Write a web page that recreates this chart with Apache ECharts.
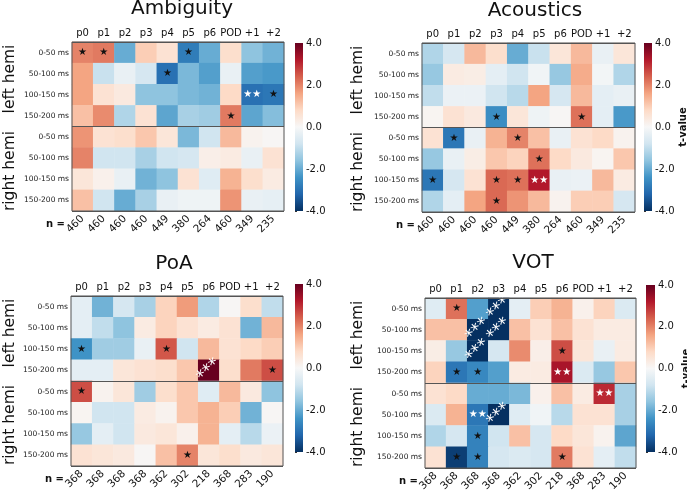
<!DOCTYPE html>
<html><head><meta charset="utf-8">
<script src="https://cdn.jsdelivr.net/npm/echarts@6/dist/echarts.min.js"></script>
<style>html,body{margin:0;padding:0;background:#fff}#c{width:687px;height:492px}</style>
</head><body><div id="c"></div>
<script>
// ---------- data ----------
const cols = ['p0','p1','p2','p3','p4','p5','p6','POD','+1','+2'];
const rowLabels = ['0-50 ms','50-100 ms','100-150 ms','150-200 ms','0-50 ms','50-100 ms','100-150 ms','150-200 ms'];
const hemis = ['left hemi','right hemi'];
const titles = ['Ambiguity','Acoustics','PoA','VOT'];
const nAmbiguity = ['460','460','460','460','449','380','264','460','349','235'];
const nAcoustics = ['460','460','460','460','449','380','264','460','349','235'];
const nPoA = ['368','368','368','368','362','302','218','368','283','190'];
const nVOT = ['368','368','368','368','362','302','218','368','283','190'];
const cbTicks = [-4, -2, 0, 2, 4];

// t-values, rows: left hemi 0-50 .. 150-200, right hemi 0-50 .. 150-200
const ambiguity = [
  [2.0, 2.1, -2.0, 1.0, 0.6, -2.8, -2.0, 0.7, -1.6, -1.9],
  [1.6, -0.9, -0.3, -0.7, -3.0, -1.8, -2.2, -0.3, -2.2, -2.3],
  [1.6, 0.6, 0.4, -1.6, -1.6, -1.8, -1.9, 0.8, -3.0, -2.9],
  [1.2, 1.9, -1.2, 0.6, -2.1, -1.3, -1.4, 2.1, -2.1, -1.7],
  [1.8, 0.6, 0.7, 1.1, 0.5, -1.8, -0.8, 1.3, 0.15, 0.05],
  [2.0, -0.8, -0.8, -1.3, -0.8, -0.7, 0.25, 0.35, -0.3, 0.6],
  [0.5, 0.2, -0.3, -1.9, -1.6, 0.6, -0.5, 1.4, 0.7, 0.35],
  [1.2, -0.8, -2.0, -1.3, -0.3, -0.2, -0.2, 1.8, -0.3, -0.35]
];
const acoustics = [
  [-1.2, -0.7, 1.3, 0.7, -2.0, -0.9, 0.5, 1.3, -0.3, 0.5],
  [-1.5, 0.35, 0.3, -0.4, -0.8, -0.15, -1.5, 1.5, -0.1, -1.2],
  [-1.0, -0.25, -0.25, -0.8, -1.1, 1.6, -0.7, 1.3, -0.4, -0.3],
  [0.1, 0.6, 0.4, -2.5, 0.5, -0.2, 0.05, 2.2, -0.4, -2.3],
  [0.6, -2.9, -0.3, 1.4, 2.0, 1.2, -0.3, 0.6, 0.8, 0.15],
  [-1.5, -0.3, 0.3, 1.1, 0.9, 2.2, 0.8, 0.4, 0.1, 1.1],
  [-2.9, -0.7, 0.6, 2.3, 2.2, 3.2, -0.3, -0.25, 1.3, 0.35],
  [-1.2, -0.4, 1.6, 2.3, 1.8, 1.3, 0.15, 1.0, 1.0, -0.7]
];
const poa = [
  [-0.4, -1.9, -0.7, -1.3, 0.9, 1.7, -1.2, 0.05, 0.7, -1.0],
  [-0.4, -1.0, -1.6, 0.35, 0.9, 0.6, 0.35, 0.6, -1.9, 1.3],
  [-2.4, -1.4, -1.4, -0.3, 2.5, -0.8, 1.3, 0.6, 0.8, 1.0],
  [-0.4, -0.4, 0.5, 0.6, 0.7, 1.1, 4.0, 0.7, 2.1, 2.6],
  [2.6, 0.15, 0.5, -1.4, 0.7, 1.1, -0.5, 1.3, 0.4, -1.6],
  [0.1, -0.8, -0.8, 0.35, 0.15, 1.1, 1.4, 1.0, -1.9, 0.05],
  [-1.5, -0.4, -0.8, 0.4, 0.5, 0.2, 1.4, -0.4, -1.1, -0.25],
  [0.6, 0.5, 0.4, 0.05, 1.2, 2.0, 0.5, 0.7, 0.4, 0.5]
];
const vot = [
  [-0.5, 2.2, -2.2, -4.0, -0.4, 1.0, 1.4, 0.2, 0.9, -0.6],
  [1.2, 1.2, -4.0, -4.0, 1.2, 0.6, 1.2, 0.6, 0.35, 0.35],
  [0.3, -1.5, -4.0, -0.7, 1.9, 0.25, 2.6, 0.5, -0.3, 0.35],
  [0.9, -2.9, -2.6, -2.2, 0.35, 0.35, 3.3, -0.6, -1.5, 1.1],
  [0.6, 0.8, -2.0, -2.0, -1.8, 0.2, 1.2, 0.35, 3.0, -1.3],
  [-0.6, 1.4, -2.9, -4.0, -0.5, -0.15, -1.1, 0.6, 0.6, -1.3],
  [-1.2, -0.7, -2.7, -0.8, 1.2, -0.7, 0.8, 0.5, 0.15, -2.1],
  [0.6, -3.8, -2.7, -0.7, -0.6, -0.7, 2.1, 0.6, -0.4, -1.0]
];
// number of significance stars per cell
const sigAmbiguity = [
  [1,1,0,0,0,1,0,0,0,0],
  [0,0,0,0,1,0,0,0,0,0],
  [0,0,0,0,0,0,0,0,2,1],
  [0,0,0,0,0,0,0,1,0,0],
  [0,0,0,0,0,0,0,0,0,0],
  [0,0,0,0,0,0,0,0,0,0],
  [0,0,0,0,0,0,0,0,0,0],
  [0,0,0,0,0,0,0,0,0,0]
];
const sigAcoustics = [
  [0,0,0,0,0,0,0,0,0,0],
  [0,0,0,0,0,0,0,0,0,0],
  [0,0,0,0,0,0,0,0,0,0],
  [0,0,0,1,0,0,0,1,0,0],
  [0,1,0,0,1,0,0,0,0,0],
  [0,0,0,0,0,1,0,0,0,0],
  [1,0,0,1,1,2,0,0,0,0],
  [0,0,0,1,0,0,0,0,0,0]
];
const sigPoA = [
  [0,0,0,0,0,0,0,0,0,0],
  [0,0,0,0,0,0,0,0,0,0],
  [1,0,0,0,1,0,0,0,0,0],
  [0,0,0,0,0,0,3,0,0,1],
  [1,0,0,0,0,0,0,0,0,0],
  [0,0,0,0,0,0,0,0,0,0],
  [0,0,0,0,0,0,0,0,0,0],
  [0,0,0,0,0,1,0,0,0,0]
];
const sigVOT = [
  [0,1,0,3,0,0,0,0,0,0],
  [0,0,3,3,0,0,0,0,0,0],
  [0,0,3,0,0,0,1,0,0,0],
  [0,1,1,0,0,0,2,0,0,0],
  [0,0,0,0,0,0,0,0,2,0],
  [0,0,2,3,0,0,0,0,0,0],
  [0,0,1,0,0,0,0,0,0,0],
  [0,1,1,0,0,0,1,0,0,0]
];

// ---------- layout ----------
const panels = [
  {title: titles[0], vals: ambiguity, sig: sigAmbiguity, n: nAmbiguity,
   g: {l: 72, t: 42, w: 212, h: 169}, cb: {l: 295, t: 43, w: 8, h: 168}, tx: 182, ty: 9, hx: 10, tval: false},
  {title: titles[1], vals: acoustics, sig: sigAcoustics, n: nAcoustics,
   g: {l: 422, t: 43, w: 213, h: 169}, cb: {l: 644, t: 43, w: 8, h: 168}, tx: 535, ty: 11, hx: 358, tval: true},
  {title: titles[2], vals: poa, sig: sigPoA, n: nPoA,
   g: {l: 71, t: 296, w: 212, h: 170}, cb: {l: 295, t: 284, w: 8, h: 168}, tx: 174, ty: 264, hx: 10, tval: false},
  {title: titles[3], vals: vot, sig: sigVOT, n: nVOT,
   g: {l: 425, t: 298, w: 211, h: 170}, cb: {l: 646, t: 285, w: 9, h: 167}, tx: 533, ty: 263, hx: 358, tval: true}
];
const RdBu_r = ['#053061','#2166ac','#3f93c6','#8fc4df','#d1e5f0','#f7f7f7','#fddbc7','#f4a582','#d6604d','#b2182b','#67001f'];
const FONT = 'DejaVu Sans';

const grid = [], xAxis = [], yAxis = [], series = [], visualMap = [], graphic = [];
panels.forEach((p, i) => {
  const gi = grid.length;
  grid.push({left: p.g.l, top: p.g.t, width: p.g.w, height: p.g.h, containLabel: false, outerBoundsMode: 'none'});
  // top column labels
  xAxis.push({type: 'category', gridIndex: gi, position: 'top', data: cols,
    axisLine: {show: false}, axisTick: {show: false}, splitLine: {show: false},
    axisLabel: {fontFamily: FONT, fontSize: 10, color: '#111', margin: 4, interval: 0}});
  const xTop = xAxis.length - 1;
  // bottom n labels
  xAxis.push({type: 'category', gridIndex: gi, position: 'bottom', data: p.n.map((v, k) => k),
    axisLine: {show: false}, axisTick: {show: false}, splitLine: {show: false},
    axisLabel: {fontFamily: FONT, fontSize: 10.5, color: '#111', margin: 6, rotate: 45, interval: 0,
      formatter: (v, k) => p.n[k]}});
  // row labels
  yAxis.push({type: 'category', gridIndex: gi, inverse: true, data: rowLabels.map((v, k) => k),
    axisLine: {show: false}, axisTick: {show: false}, splitLine: {show: false},
    axisLabel: {fontFamily: FONT, fontSize: 7.5, color: '#222', margin: 3, interval: 0,
      formatter: (v, k) => rowLabels[k]}});
  const yRow = yAxis.length - 1;
  // hemisphere axis (divider line)
  yAxis.push({type: 'category', gridIndex: gi, inverse: true, data: hemis, z: 5,
    axisLine: {show: false}, axisTick: {show: false}, axisLabel: {show: false},
    splitLine: {show: true, lineStyle: {color: '#555', width: 1}}});
  const data = [];
  p.vals.forEach((row, r) => row.forEach((v, c) => {
    const s = p.sig[r][c];
    const item = {value: [c, r, v]};
    if (s === 1) item.label = {show: true, formatter: '★', color: '#111', fontSize: 10};
    else if (s === 2) item.label = {show: true, formatter: '★★', color: '#fff', fontSize: 10};
    else if (s === 3) item.label = {show: true, formatter: '***', color: '#fff', fontSize: 17, rotate: 45};
    data.push(item);
  }));
  series.push({type: 'heatmap', xAxisIndex: xTop, yAxisIndex: yRow, data: data, progressive: 0,
    itemStyle: {borderWidth: 0}, label: {show: false, fontFamily: FONT}, emphasis: {disabled: true}});
  visualMap.push({type: 'continuous', show: false, min: cbTicks[0], max: cbTicks[cbTicks.length - 1],
    seriesIndex: i, inRange: {color: RdBu_r}});
  // colorbar: gradient + axis
  graphic.push({type: 'rect', silent: true, z: 10,
    shape: {x: p.cb.l, y: p.cb.t, width: p.cb.w, height: p.cb.h},
    style: {fill: new echarts.graphic.LinearGradient(0, 0, 0, 1,
      RdBu_r.slice().reverse().map((col, k) => ({offset: k / (RdBu_r.length - 1), color: col})))}});
  const ci = grid.length;
  grid.push({left: p.cb.l, top: p.cb.t, width: p.cb.w, height: p.cb.h, containLabel: false, outerBoundsMode: 'none'});
  xAxis.push({type: 'value', gridIndex: ci, show: false, min: 0, max: 1});
  yAxis.push({type: 'value', gridIndex: ci, position: 'right', min: cbTicks[0], max: cbTicks[cbTicks.length - 1],
    interval: cbTicks[1] - cbTicks[0], axisLine: {show: false}, splitLine: {show: false},
    axisTick: {show: true, length: 2, lineStyle: {color: '#333'}},
    axisLabel: {fontFamily: FONT, fontSize: 10, color: '#111', margin: 3, formatter: v => v.toFixed(1)},
    name: p.tval ? 't-value' : '', nameLocation: 'middle', nameRotate: 90, nameGap: 25,
    nameTextStyle: {fontFamily: FONT, fontSize: 10, fontWeight: 'bold', color: '#111'}});
  // frame
  graphic.push({type: 'rect', z: 100, silent: true,
    shape: {x: p.g.l, y: p.g.t, width: p.g.w, height: p.g.h},
    style: {fill: null, stroke: '#555', lineWidth: 1}});
  // title
  graphic.push({type: 'text', x: p.tx, y: p.ty, silent: true,
    style: {text: p.title, font: '20px "DejaVu Sans"', fill: '#111', textAlign: 'center', textVerticalAlign: 'middle'}});
  // hemisphere labels
  [37, 129].forEach((dy, k) => graphic.push({type: 'text', x: p.hx, y: p.g.t + dy, rotation: Math.PI / 2, silent: true,
    style: {text: hemis[k], font: '15.5px "DejaVu Sans"', fill: '#111', textAlign: 'center', textVerticalAlign: 'middle'}}));
  // n =
  graphic.push({type: 'text', x: p.g.l - 7, y: p.g.t + p.g.h + 13, silent: true,
    style: {text: 'n =', font: 'bold 10px "DejaVu Sans"', fill: '#111', textAlign: 'right', textVerticalAlign: 'middle'}});
});

const chart = echarts.init(document.getElementById('c'), null, {renderer: 'canvas'});
chart.setOption({
  animation: false,
  backgroundColor: '#fff',
  textStyle: {fontFamily: FONT},
  grid, xAxis, yAxis, series, visualMap, graphic
});
</script></body></html>
